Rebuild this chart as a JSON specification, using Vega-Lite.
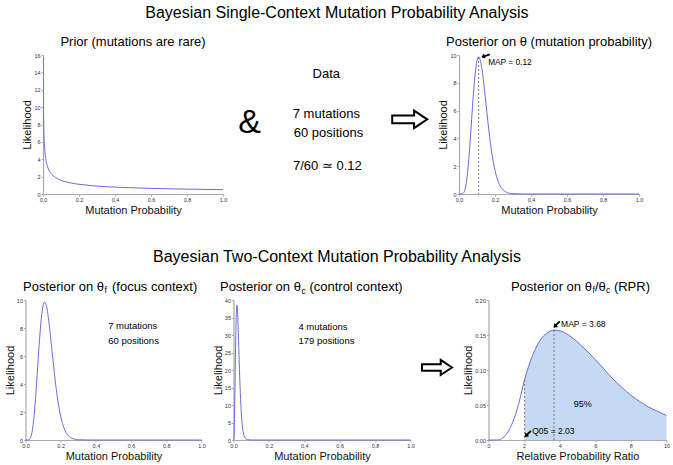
{
  "$schema": "https://vega.github.io/schema/vega-lite/v6.json",
  "background": "white",
  "padding": {"left": 4, "top": 5, "right": 0, "bottom": 1},
  "config": {
    "view": {"stroke": null},
    "font": "Liberation Sans",
    "text": {"font": "Liberation Sans", "color": "#000000"},
    "title": {"fontSize": 13, "fontWeight": "normal", "font": "Liberation Sans", "color": "#000000", "anchor": "middle"},
    "axis": {"domainColor": "#aaaaaa", "domainWidth": 1.2, "tickColor": "#aaaaaa", "tickSize": 2, "labelFontSize": 5.5, "labelColor": "#333333", "labelPadding": 1, "titleFontSize": 11, "titleFontWeight": "normal", "titleColor": "#111111", "grid": false, "labelFlush": false, "labelOverlap": false, "labelFont": "Liberation Sans", "titleFont": "Liberation Sans"},
    "axisX": {"titlePadding": 2},
    "axisY": {"titlePadding": 1}
  },
  "center": true,
  "spacing": 32,
  "vconcat": [
    {
      "title": {"text": "Bayesian Single-Context Mutation Probability Analysis", "fontSize": 16, "offset": 15, "anchor": "middle"},
      "spacing": 0,
      "align": "each",
      "hconcat": [
        {
          "width": 180, "height": 139,
          "title": {"text": "Prior (mutations are rare)", "offset": 4},
          "data": {"values": [
            {"x": 0.001, "y": 15.8}, {"x": 0.0015, "y": 12.9}, {"x": 0.002, "y": 11.2}, {"x": 0.003, "y": 9.13}, {"x": 0.004, "y": 7.9}, {"x": 0.006, "y": 6.45}, {"x": 0.008, "y": 5.59}, {"x": 0.01, "y": 5.0}, {"x": 0.015, "y": 4.08}, {"x": 0.02, "y": 3.54}, {"x": 0.03, "y": 2.89}, {"x": 0.04, "y": 2.5}, {"x": 0.05, "y": 2.24}, {"x": 0.07, "y": 1.89}, {"x": 0.1, "y": 1.58}, {"x": 0.15, "y": 1.29}, {"x": 0.2, "y": 1.12}, {"x": 0.3, "y": 0.91}, {"x": 0.4, "y": 0.79}, {"x": 0.5, "y": 0.71}, {"x": 0.6, "y": 0.65}, {"x": 0.7, "y": 0.6}, {"x": 0.8, "y": 0.56}, {"x": 0.9, "y": 0.53}, {"x": 1.0, "y": 0.5}
          ]},
          "mark": {"type": "line", "color": "#6b6be0", "strokeWidth": 1, "interpolate": "monotone", "clip": true},
          "encoding": {
            "x": {"field": "x", "type": "quantitative", "scale": {"domain": [0, 1]}, "axis": {"title": "Mutation Probability", "values": [0, 0.2, 0.4, 0.6, 0.8, 1], "format": ".1f", "tickCount": 20}},
            "y": {"field": "y", "type": "quantitative", "scale": {"domain": [0, 16]}, "axis": {"title": "Likelihood", "values": [0, 2, 4, 6, 8, 10, 12, 14, 16], "format": "d", "tickCount": 20}}
          }
        },
        {
          "width": 210, "height": 139,
          "layer": [
            {
              "data": {"values": [
                {"x": 4.73, "y": 8.61, "t": "Data"},
                {"x": 4.73, "y": 5.73, "t": "7 mutations"},
                {"x": 4.83, "y": 4.41, "t": "60 positions"},
                {"x": 4.78, "y": 2.01, "t": "7/60 ≃ 0.12"}
              ]},
              "mark": {"type": "text", "fontSize": 13, "baseline": "middle"},
              "encoding": {
                "x": {"field": "x", "type": "quantitative", "scale": {"domain": [0, 10]}, "axis": null},
                "y": {"field": "y", "type": "quantitative", "scale": {"domain": [0, 10]}, "axis": null},
                "text": {"field": "t"}
              }
            },
            {
              "data": {"values": [{"x": 1.08, "y": 5.13, "t": "&"}]},
              "mark": {"type": "text", "fontSize": 34, "baseline": "middle"},
              "encoding": {
                "x": {"field": "x", "type": "quantitative", "axis": null},
                "y": {"field": "y", "type": "quantitative", "axis": null},
                "text": {"field": "t"}
              }
            },
            {
              "data": {"values": [{"x": 8.7, "y": 5.37}]},
              "mark": {"type": "point", "shape": "M-1,-0.22L0.25,-0.22L0.25,-0.5L1,0L0.25,0.5L0.25,0.22L-1,0.22Z", "size": 1225, "filled": true, "fill": "white", "stroke": "black", "strokeWidth": 2, "opacity": 1},
              "encoding": {
                "x": {"field": "x", "type": "quantitative", "axis": null},
                "y": {"field": "y", "type": "quantitative", "axis": null}
              }
            }
          ]
        },
        {
          "width": 180, "height": 139,
          "title": {"text": "Posterior on θ (mutation probability)", "offset": 4},
          "layer": [
            {
              "data": {"values": [
                {"x": 0, "y": 0}, {"x": 0.01, "y": 0.001}, {"x": 0.02, "y": 0.025}, {"x": 0.03, "y": 0.2}, {"x": 0.04, "y": 0.76}, {"x": 0.05, "y": 1.86}, {"x": 0.06, "y": 3.47}, {"x": 0.07, "y": 5.36}, {"x": 0.08, "y": 7.2}, {"x": 0.09, "y": 8.68}, {"x": 0.1, "y": 9.58}, {"x": 0.109, "y": 9.86}, {"x": 0.12, "y": 9.52}, {"x": 0.13, "y": 8.75}, {"x": 0.14, "y": 7.68}, {"x": 0.15, "y": 6.46}, {"x": 0.16, "y": 5.26}, {"x": 0.17, "y": 4.13}, {"x": 0.18, "y": 3.15}, {"x": 0.19, "y": 2.34}, {"x": 0.2, "y": 1.69}, {"x": 0.22, "y": 0.82}, {"x": 0.24, "y": 0.36}, {"x": 0.26, "y": 0.15}, {"x": 0.28, "y": 0.056}, {"x": 0.3, "y": 0.02}, {"x": 0.35, "y": 0.001}, {"x": 0.4, "y": 0}, {"x": 0.5, "y": 0}, {"x": 0.6, "y": 0}, {"x": 0.7, "y": 0}, {"x": 0.8, "y": 0}, {"x": 0.9, "y": 0}, {"x": 1.0, "y": 0}
              ]},
              "mark": {"type": "line", "color": "#6b6be0", "strokeWidth": 1, "interpolate": "monotone"},
              "encoding": {
                "x": {"field": "x", "type": "quantitative", "scale": {"domain": [0, 1]}, "axis": {"title": "Mutation Probability", "values": [0, 0.2, 0.4, 0.6, 0.8, 1], "format": ".1f", "tickCount": 20}},
                "y": {"field": "y", "type": "quantitative", "scale": {"domain": [0, 10]}, "axis": {"title": "Likelihood", "values": [0, 2, 4, 6, 8, 10], "format": "d", "tickCount": 20}}
              }
            },
            {
              "data": {"values": [{"x": 0.109, "y": 9.86}]},
              "mark": {"type": "rule", "color": "#555555", "strokeDash": [2, 2], "strokeWidth": 0.8},
              "encoding": {
                "x": {"field": "x", "type": "quantitative"},
                "y": {"field": "y", "type": "quantitative"},
                "y2": {"datum": 0}
              }
            },
            {
              "data": {"values": [{"x": 0.162, "y": 9.4, "t": "MAP = 0.12"}]},
              "mark": {"type": "text", "fontSize": 8.3, "align": "left", "baseline": "middle"},
              "encoding": {
                "x": {"field": "x", "type": "quantitative"},
                "y": {"field": "y", "type": "quantitative"},
                "text": {"field": "t"}
              }
            },
            {
              "data": {"values": [{"x": 0.147, "y": 9.94}]},
              "mark": {"type": "point", "shape": "M-1,0L-0.15,-0.6L-0.15,-0.2L1,-0.2L1,0.2L-0.15,0.2L-0.15,0.6Z", "size": 81, "angle": -20, "filled": true, "color": "black", "opacity": 1},
              "encoding": {
                "x": {"field": "x", "type": "quantitative"},
                "y": {"field": "y", "type": "quantitative"}
              }
            }
          ]
        }
      ]
    },
    {
      "title": {"text": "Bayesian Two-Context Mutation Probability Analysis", "fontSize": 16, "offset": 16, "anchor": "middle"},
      "spacing": 6,
      "align": "each",
      "hconcat": [
        {
          "width": 176, "height": 140,
          "layer": [
            {
              "data": {"values": [
                {"x": 0, "y": 0}, {"x": 0.01, "y": 0.001}, {"x": 0.02, "y": 0.025}, {"x": 0.03, "y": 0.2}, {"x": 0.04, "y": 0.76}, {"x": 0.05, "y": 1.86}, {"x": 0.06, "y": 3.47}, {"x": 0.07, "y": 5.36}, {"x": 0.08, "y": 7.2}, {"x": 0.09, "y": 8.68}, {"x": 0.1, "y": 9.58}, {"x": 0.109, "y": 9.86}, {"x": 0.12, "y": 9.52}, {"x": 0.13, "y": 8.75}, {"x": 0.14, "y": 7.68}, {"x": 0.15, "y": 6.46}, {"x": 0.16, "y": 5.26}, {"x": 0.17, "y": 4.13}, {"x": 0.18, "y": 3.15}, {"x": 0.19, "y": 2.34}, {"x": 0.2, "y": 1.69}, {"x": 0.22, "y": 0.82}, {"x": 0.24, "y": 0.36}, {"x": 0.26, "y": 0.15}, {"x": 0.28, "y": 0.056}, {"x": 0.3, "y": 0.02}, {"x": 0.35, "y": 0.001}, {"x": 0.4, "y": 0}, {"x": 0.5, "y": 0}, {"x": 0.6, "y": 0}, {"x": 0.7, "y": 0}, {"x": 0.8, "y": 0}, {"x": 0.9, "y": 0}, {"x": 1.0, "y": 0}
              ]},
              "mark": {"type": "line", "color": "#6b6be0", "strokeWidth": 1, "interpolate": "monotone"},
              "encoding": {
                "x": {"field": "x", "type": "quantitative", "scale": {"domain": [0, 1]}, "axis": {"title": "Mutation Probability", "values": [0, 0.2, 0.4, 0.6, 0.8, 1], "format": ".1f", "tickCount": 20}},
                "y": {"field": "y", "type": "quantitative", "scale": {"domain": [0, 10]}, "axis": {"title": "Likelihood", "values": [0, 2, 4, 6, 8, 10], "format": "d", "tickCount": 20}}
              }
            },
            {
              "data": {"values": [{"x": 0.47, "y": 8.14, "t": "7 mutations"}, {"x": 0.47, "y": 7.09, "t": "60 positions"}]},
              "mark": {"type": "text", "fontSize": 9.5, "align": "left", "baseline": "middle"},
              "encoding": {"x": {"field": "x", "type": "quantitative"}, "y": {"field": "y", "type": "quantitative"}, "text": {"field": "t"}}
            },
            {
              "data": {"values": [{"x": 0.446, "y": 10.93, "t": "Posterior on θ"}]},
              "mark": {"type": "text", "fontSize": 13, "align": "right", "baseline": "middle"},
              "encoding": {"x": {"field": "x", "type": "quantitative"}, "y": {"field": "y", "type": "quantitative"}, "text": {"field": "t"}}
            },
            {
              "data": {"values": [{"x": 0.446, "y": 10.93, "t": "f"}]},
              "mark": {"type": "text", "fontSize": 8.5, "align": "left", "baseline": "middle", "dx": 0.5, "dy": 3.5},
              "encoding": {"x": {"field": "x", "type": "quantitative"}, "y": {"field": "y", "type": "quantitative"}, "text": {"field": "t"}}
            },
            {
              "data": {"values": [{"x": 0.446, "y": 10.93, "t": "(focus context)"}]},
              "mark": {"type": "text", "fontSize": 13, "align": "left", "baseline": "middle", "dx": 8},
              "encoding": {"x": {"field": "x", "type": "quantitative"}, "y": {"field": "y", "type": "quantitative"}, "text": {"field": "t"}}
            }
          ]
        },
        {
          "spacing": 3,
          "align": "each",
          "hconcat": [
            {
              "width": 177, "height": 140,
              "layer": [
                {
                  "data": {"values": [
                    {"x": 0, "y": 0}, {"x": 0.0025, "y": 0.59}, {"x": 0.005, "y": 4.29}, {"x": 0.0075, "y": 11.4}, {"x": 0.01, "y": 20.1}, {"x": 0.0125, "y": 28.2}, {"x": 0.015, "y": 34.2}, {"x": 0.0175, "y": 37.6}, {"x": 0.0196, "y": 38.5}, {"x": 0.0225, "y": 37.1}, {"x": 0.025, "y": 34.3}, {"x": 0.03, "y": 26.4}, {"x": 0.035, "y": 18.3}, {"x": 0.04, "y": 11.8}, {"x": 0.045, "y": 7.14}, {"x": 0.05, "y": 4.12}, {"x": 0.06, "y": 1.22}, {"x": 0.07, "y": 0.32}, {"x": 0.08, "y": 0.08}, {"x": 0.1, "y": 0.005}, {"x": 0.15, "y": 0}, {"x": 0.2, "y": 0}, {"x": 0.4, "y": 0}, {"x": 0.6, "y": 0}, {"x": 0.8, "y": 0}, {"x": 1.0, "y": 0}
                  ]},
                  "mark": {"type": "line", "color": "#6b6be0", "strokeWidth": 1, "interpolate": "monotone"},
                  "encoding": {
                    "x": {"field": "x", "type": "quantitative", "scale": {"domain": [0, 1]}, "axis": {"title": "Mutation Probability", "values": [0, 0.2, 0.4, 0.6, 0.8, 1], "format": ".1f", "tickCount": 20}},
                    "y": {"field": "y", "type": "quantitative", "scale": {"domain": [0, 40]}, "axis": {"title": "Likelihood", "values": [0, 5, 10, 15, 20, 25, 30, 35, 40], "format": "d", "tickCount": 20}}
                  }
                },
                {
                  "data": {"values": [{"x": 0.367, "y": 32.4, "t": "4 mutations"}, {"x": 0.367, "y": 28.3, "t": "179 positions"}]},
                  "mark": {"type": "text", "fontSize": 9.5, "align": "left", "baseline": "middle"},
                  "encoding": {"x": {"field": "x", "type": "quantitative"}, "y": {"field": "y", "type": "quantitative"}, "text": {"field": "t"}}
                },
                {
                  "data": {"values": [{"x": 0.381, "y": 43.7, "t": "Posterior on θ"}]},
                  "mark": {"type": "text", "fontSize": 13, "align": "right", "baseline": "middle"},
                  "encoding": {"x": {"field": "x", "type": "quantitative"}, "y": {"field": "y", "type": "quantitative"}, "text": {"field": "t"}}
                },
                {
                  "data": {"values": [{"x": 0.381, "y": 43.7, "t": "c"}]},
                  "mark": {"type": "text", "fontSize": 8.5, "align": "left", "baseline": "middle", "dx": 0.5, "dy": 3.5},
                  "encoding": {"x": {"field": "x", "type": "quantitative"}, "y": {"field": "y", "type": "quantitative"}, "text": {"field": "t"}}
                },
                {
                  "data": {"values": [{"x": 0.381, "y": 43.7, "t": "(control context)"}]},
                  "mark": {"type": "text", "fontSize": 13, "align": "left", "baseline": "middle", "dx": 8.5},
                  "encoding": {"x": {"field": "x", "type": "quantitative"}, "y": {"field": "y", "type": "quantitative"}, "text": {"field": "t"}}
                }
              ]
            },
            {
              "width": 31, "height": 140,
              "data": {"values": [{"x": 5.0, "y": 5.18}]},
              "mark": {"type": "point", "shape": "M-1,-0.22L0.25,-0.22L0.25,-0.5L1,0L0.25,0.5L0.25,0.22L-1,0.22Z", "size": 900, "filled": true, "fill": "white", "stroke": "black", "strokeWidth": 2, "opacity": 1},
              "encoding": {
                "x": {"field": "x", "type": "quantitative", "scale": {"domain": [0, 10]}, "axis": null},
                "y": {"field": "y", "type": "quantitative", "scale": {"domain": [0, 10]}, "axis": null}
              }
            }
          ]
        },
        {
          "width": 178, "height": 140,
          "layer": [
            {
              "data": {"values": [
                {"x": 2.03, "y": 0.086}, {"x": 2.25, "y": 0.105}, {"x": 2.5, "y": 0.122}, {"x": 2.75, "y": 0.136}, {"x": 3.0, "y": 0.146}, {"x": 3.25, "y": 0.152}, {"x": 3.5, "y": 0.156}, {"x": 3.68, "y": 0.157}, {"x": 4.0, "y": 0.156}, {"x": 4.5, "y": 0.15}, {"x": 5.0, "y": 0.14}, {"x": 5.5, "y": 0.128}, {"x": 6.0, "y": 0.115}, {"x": 6.5, "y": 0.101}, {"x": 7.0, "y": 0.087}, {"x": 7.5, "y": 0.075}, {"x": 8.0, "y": 0.064}, {"x": 8.5, "y": 0.055}, {"x": 9.0, "y": 0.047}, {"x": 9.5, "y": 0.041}, {"x": 10.0, "y": 0.035}
              ]},
              "mark": {"type": "area", "color": "#c6d9f2", "opacity": 1, "interpolate": "monotone"},
              "encoding": {
                "x": {"field": "x", "type": "quantitative", "scale": {"domain": [0, 10]}, "axis": {"title": "Relative Probability Ratio", "values": [0, 2, 4, 6, 8, 10], "format": "d", "tickCount": 20}},
                "y": {"field": "y", "type": "quantitative", "scale": {"domain": [0, 0.2]}, "axis": {"title": "Likelihood", "values": [0, 0.05, 0.1, 0.15, 0.2], "format": ".2f", "tickCount": 20}}
              }
            },
            {
              "data": {"values": [
                {"x": 0, "y": 0}, {"x": 0.5, "y": 0}, {"x": 0.75, "y": 0.002}, {"x": 1.0, "y": 0.008}, {"x": 1.25, "y": 0.019}, {"x": 1.5, "y": 0.035}, {"x": 1.75, "y": 0.057}, {"x": 2.03, "y": 0.086}, {"x": 2.25, "y": 0.105}, {"x": 2.5, "y": 0.122}, {"x": 2.75, "y": 0.136}, {"x": 3.0, "y": 0.146}, {"x": 3.25, "y": 0.152}, {"x": 3.5, "y": 0.156}, {"x": 3.68, "y": 0.157}, {"x": 4.0, "y": 0.156}, {"x": 4.5, "y": 0.15}, {"x": 5.0, "y": 0.14}, {"x": 5.5, "y": 0.128}, {"x": 6.0, "y": 0.115}, {"x": 6.5, "y": 0.101}, {"x": 7.0, "y": 0.087}, {"x": 7.5, "y": 0.075}, {"x": 8.0, "y": 0.064}, {"x": 8.5, "y": 0.055}, {"x": 9.0, "y": 0.047}, {"x": 9.5, "y": 0.041}, {"x": 10.0, "y": 0.035}
              ]},
              "mark": {"type": "line", "color": "#6b6be0", "strokeWidth": 1, "interpolate": "monotone"},
              "encoding": {"x": {"field": "x", "type": "quantitative"}, "y": {"field": "y", "type": "quantitative"}}
            },
            {
              "data": {"values": [{"x": 2.03, "y": 0.086}, {"x": 3.68, "y": 0.157}]},
              "mark": {"type": "rule", "color": "#555555", "strokeDash": [2, 2], "strokeWidth": 0.8},
              "encoding": {"x": {"field": "x", "type": "quantitative"}, "y": {"field": "y", "type": "quantitative"}, "y2": {"datum": 0}}
            },
            {
              "data": {"values": [{"x": 4.08, "y": 0.166, "t": "MAP = 3.68"}, {"x": 2.46, "y": 0.0133, "t": "Q05 = 2.03"}]},
              "mark": {"type": "text", "fontSize": 8.5, "align": "left", "baseline": "middle"},
              "encoding": {"x": {"field": "x", "type": "quantitative"}, "y": {"field": "y", "type": "quantitative"}, "text": {"field": "t"}}
            },
            {
              "data": {"values": [{"x": 5.29, "y": 0.0514, "t": "95%"}]},
              "mark": {"type": "text", "fontSize": 9, "align": "center", "baseline": "middle"},
              "encoding": {"x": {"field": "x", "type": "quantitative"}, "y": {"field": "y", "type": "quantitative"}, "text": {"field": "t"}}
            },
            {
              "data": {"values": [{"x": 3.83, "y": 0.165}, {"x": 2.21, "y": 0.0086}]},
              "mark": {"type": "point", "shape": "M-1,0L-0.15,-0.6L-0.15,-0.2L1,-0.2L1,0.2L-0.15,0.2L-0.15,0.6Z", "size": 81, "angle": -45, "filled": true, "color": "black", "opacity": 1},
              "encoding": {"x": {"field": "x", "type": "quantitative"}, "y": {"field": "y", "type": "quantitative"}}
            },
            {
              "data": {"values": [{"x": 5.81, "y": 0.2186, "t": "Posterior on θ"}]},
              "mark": {"type": "text", "fontSize": 13, "align": "right", "baseline": "middle"},
              "encoding": {"x": {"field": "x", "type": "quantitative"}, "y": {"field": "y", "type": "quantitative"}, "text": {"field": "t"}}
            },
            {
              "data": {"values": [{"x": 5.81, "y": 0.2186, "t": "f"}]},
              "mark": {"type": "text", "fontSize": 8.5, "align": "left", "baseline": "middle", "dx": 0.5, "dy": 3.5},
              "encoding": {"x": {"field": "x", "type": "quantitative"}, "y": {"field": "y", "type": "quantitative"}, "text": {"field": "t"}}
            },
            {
              "data": {"values": [{"x": 5.81, "y": 0.2186, "t": "/θ"}]},
              "mark": {"type": "text", "fontSize": 13, "align": "left", "baseline": "middle", "dx": 3},
              "encoding": {"x": {"field": "x", "type": "quantitative"}, "y": {"field": "y", "type": "quantitative"}, "text": {"field": "t"}}
            },
            {
              "data": {"values": [{"x": 5.81, "y": 0.2186, "t": "c"}]},
              "mark": {"type": "text", "fontSize": 8.5, "align": "left", "baseline": "middle", "dx": 14, "dy": 3.5},
              "encoding": {"x": {"field": "x", "type": "quantitative"}, "y": {"field": "y", "type": "quantitative"}, "text": {"field": "t"}}
            },
            {
              "data": {"values": [{"x": 5.81, "y": 0.2186, "t": "(RPR)"}]},
              "mark": {"type": "text", "fontSize": 13, "align": "left", "baseline": "middle", "dx": 22},
              "encoding": {"x": {"field": "x", "type": "quantitative"}, "y": {"field": "y", "type": "quantitative"}, "text": {"field": "t"}}
            }
          ]
        }
      ]
    }
  ]
}
